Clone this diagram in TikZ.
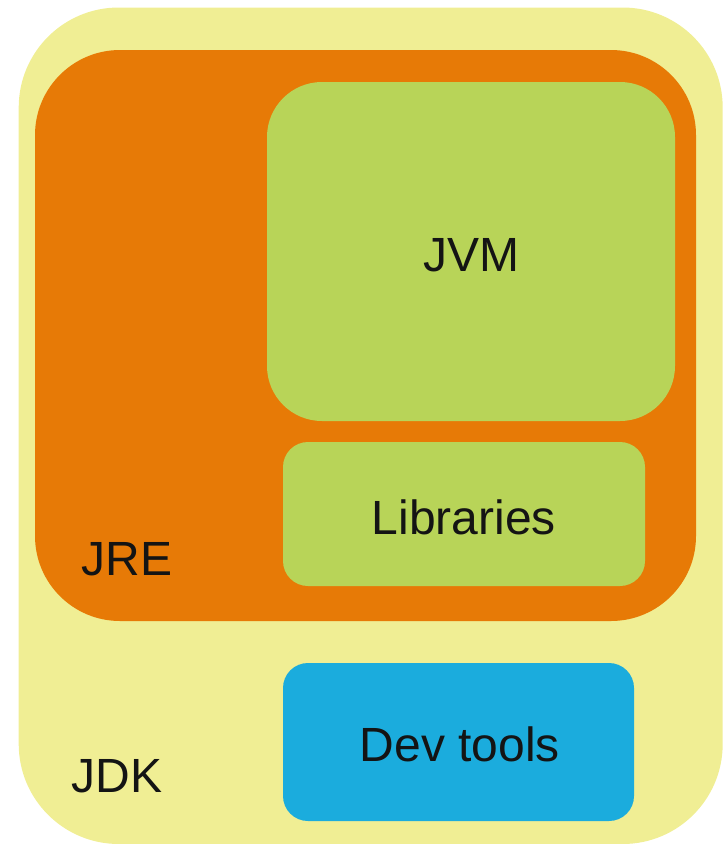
\documentclass[tikz,border=0pt]{standalone}
\usepackage{fontspec}
\setmainfont{Liberation Sans}
\definecolor{jdkcol}{HTML}{F0EE94}
\definecolor{jrecol}{HTML}{E77A06}
\definecolor{greencol}{HTML}{B8D458}
\definecolor{bluecol}{HTML}{1BACDD}
\tikzset{
  box/.style={rectangle, draw=none, inner sep=0pt, outer sep=0pt},
  lbl/.style={anchor=base, inner sep=0pt, font=\fontsize{48}{58}\selectfont, text=black!92}
}
\begin{document}
\begin{tikzpicture}[x=1pt,y=-1pt]
\useasboundingbox (0,0) rectangle (724,844);
\node[box, fill=jdkcol, rounded corners=100pt, minimum width=704pt, minimum height=836.5pt] (jdk) at (370.7,425.75) {};
\node[box, fill=jrecol, rounded corners=85pt, minimum width=661pt, minimum height=571pt] (jre) at (365.5,335.5) {};
\node[box, fill=greencol, rounded corners=55pt, minimum width=408pt, minimum height=339pt] (jvm) at (471,251.5) {};
\node[box, fill=greencol, rounded corners=25pt, minimum width=362pt, minimum height=144pt] (lib) at (464,514) {};
\node[box, fill=bluecol, rounded corners=25pt, minimum width=351pt, minimum height=158pt] (dev) at (458.5,742) {};
\node[lbl] (jvmt) at (471,271.7) {JVM};
\node[lbl] (libt) at (464,534) {Libraries};
\node[lbl] (jret) at (127,575) {JRE};
\node[lbl] (devt) at (459.7,761.7) {Dev tools};
\node[lbl] (jdkt) at (117,792.3) {JDK};
\end{tikzpicture}
\end{document}
